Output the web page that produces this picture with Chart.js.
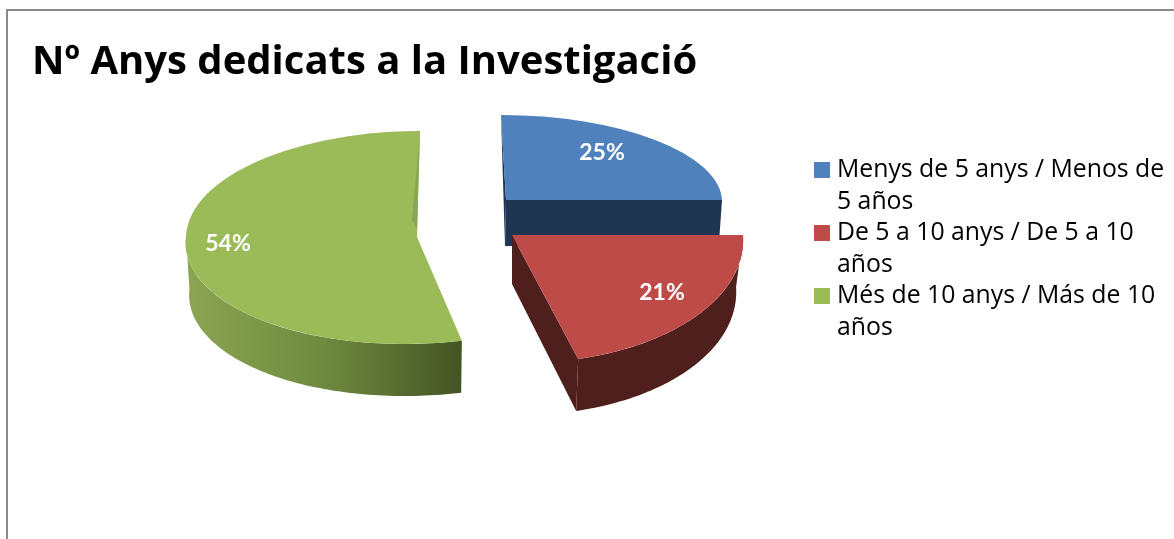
<!DOCTYPE html>
<html>
<head>
<meta charset="utf-8">
<style>html,body{margin:0;padding:0;background:#fff}canvas{display:block}</style>
<script src="https://cdn.jsdelivr.net/npm/chart.js@4/dist/chart.umd.min.js"></script>
</head>
<body>
<canvas id="c" width="1174" height="539"></canvas>
<script>
const titleText = 'Nº Anys dedicats a la Investigació';
const categories = [
  ['Menys de 5 anys / Menos de', '5 años'],
  ['De 5 a 10 anys / De 5 a 10', 'años'],
  ['Més de 10 anys / Más de 10', 'años']
];
const values = [25, 21, 54];
const topColors = ['#4f81bd', '#be4b48', '#9bbb59'];

// Projection of each exploded slice on the page (3-D look)
const projection = [
  {cx: 506, cy: 200, rx: 216, ryTop: 85,  ryBot: 85,  skTop: 5,  skBot: 5,   depth: 46, k: 0.985},
  {cx: 512, cy: 235, rx: 231, ryTop: 128, ryBot: 128, skTop: 9,  skBot: 9,   depth: 52, k: 0.97},
  {cx: 417, cy: 237, rx: 231, ryTop: 106, ryBot: 107, skTop: -3, skBot: -13, depth: 52, k: 0.985}
];
const labelPos = [[602, 153], [662, 293], [228, 244]];
const legendAt = {left: 819.6, top: 159};
const legendSwatch = 16;

function pt(p, a, z) {
  const u = Math.cos(a), v = Math.sin(a);
  const up = v < 0;
  const x = p.rx * u + (up ? p.skTop : p.skBot) * v;
  const y = (up ? p.ryTop : p.ryBot) * v;
  return z ? {x: p.cx + x * p.k, y: p.cy + y + p.depth}
           : {x: p.cx + x, y: p.cy + y};
}
function polygon(ctx, pts, fill) {
  ctx.beginPath();
  pts.forEach((q, i) => i ? ctx.lineTo(q.x, q.y) : ctx.moveTo(q.x, q.y));
  ctx.closePath();
  ctx.fillStyle = fill;
  ctx.fill();
}
function outerWall(ctx, p, a0, a1, fill) {
  const n = 80, pts = [];
  for (let i = 0; i <= n; i++) pts.push(pt(p, a0 + (a1 - a0) * i / n, false));
  for (let i = n; i >= 0; i--) pts.push(pt(p, a0 + (a1 - a0) * i / n, true));
  polygon(ctx, pts, fill);
}
function drawTop(ctx, chart, arc, p) {
  const R = arc.outerRadius;
  [[0, p.cy + 0.5, p.ryTop, p.skTop], [p.cy - 0.5, chart.height, p.ryBot, p.skBot]].forEach(([y0, y1, ry, sk]) => {
    ctx.save();
    ctx.beginPath();
    ctx.rect(0, y0, chart.width, y1 - y0);
    ctx.clip();
    ctx.translate(p.cx, p.cy);
    ctx.transform(p.rx / R, 0, sk / R, ry / R, 0, 0);
    ctx.translate(-arc.x, -arc.y);
    arc.draw(ctx);
    ctx.restore();
  });
}
function swatch(color) {
  const c = document.createElement('canvas');
  c.width = c.height = legendSwatch;
  const x = c.getContext('2d');
  x.fillStyle = color;
  x.fillRect(0, 0, legendSwatch, legendSwatch);
  return c;
}

const frame = {
  id: 'frame',
  afterLayout(chart) {
    const l = chart.legend;
    const w = l.right - l.left;
    l.left = legendAt.left;
    l.right = legendAt.left + w;
    l.top = legendAt.top;
    l.bottom = chart.height;
    l.draw = function () { this._draw(); };
  },
  beforeDraw(chart) {
    const ctx = chart.ctx;
    ctx.save();
    ctx.strokeStyle = '#8a8a8a';
    ctx.lineWidth = 2;
    ctx.strokeRect(7, 10, 1400, 800);
    ctx.restore();
  }
};

const pie3d = {
  id: 'pie3d',
  beforeDatasetsDraw(chart) {
    const ctx = chart.ctx;
    const arcs = chart.getDatasetMeta(0).data;
    const [blue, red, green] = arcs;

    // blue: front cut wall, left sliver, top
    {
      const p = projection[0];
      const apex = {x: p.cx, y: p.cy}, apexB = {x: p.cx - 1, y: p.cy + p.depth};
      polygon(ctx, [pt(p, blue.startAngle, false), apex, apexB], '#1f3552');
      polygon(ctx, [apex, pt(p, blue.endAngle, false), pt(p, blue.endAngle, true), apexB], '#1f3552');
      drawTop(ctx, chart, blue, p);
    }
    // green: outer wall with gradient, top, inner sliver
    {
      const p = projection[2];
      const g = ctx.createLinearGradient(p.cx - p.rx, 0, pt(p, green.startAngle, false).x, 0);
      g.addColorStop(0, '#8ca553');
      g.addColorStop(0.5, '#6f8a3f');
      g.addColorStop(1, '#445424');
      outerWall(ctx, p, green.startAngle, Math.PI, g);
      drawTop(ctx, chart, green, p);
      const a = {x: p.cx, y: p.cy - 7};
      polygon(ctx, [pt(p, green.endAngle, false), {x: a.x - 5, y: a.y - 10}, a], '#8aa654');
    }
    // red: cut wall, outer wall, top
    {
      const p = projection[1];
      const s = pt(p, red.endAngle, false), sB = pt(p, red.endAngle, true);
      polygon(ctx, [{x: p.cx, y: p.cy}, s, sB, {x: p.cx, y: p.cy + p.depth - 3}], '#4f1f1d');
      outerWall(ctx, p, red.startAngle, red.endAngle, '#4f1f1d');
      drawTop(ctx, chart, red, p);
    }
    // percentage labels
    ctx.save();
    ctx.fillStyle = '#fff';
    ctx.font = 'bold 23px Lato, Carlito, sans-serif';
    ctx.textAlign = 'center';
    ctx.textBaseline = 'middle';
    values.forEach((v, i) => ctx.fillText(v + '%', labelPos[i][0], labelPos[i][1]));
    ctx.restore();
    return false;
  }
};

new Chart(document.getElementById('c'), {
  type: 'pie',
  data: {
    labels: categories,
    datasets: [{data: values, backgroundColor: topColors, borderWidth: 0}]
  },
  plugins: [frame, pie3d],
  options: {
    responsive: false,
    animation: false,
    layout: {padding: {left: 32, right: 8, top: 43}},
    plugins: {
      tooltip: {enabled: false},
      title: {
        display: true,
        text: titleText,
        align: 'start',
        color: '#000',
        font: {family: '"Open Sans", sans-serif', size: 40, weight: 'bold', lineHeight: 1},
        padding: {top: 0, bottom: 54}
      },
      legend: {
        position: 'right',
        align: 'start',
        labels: {
          color: '#000',
          usePointStyle: true,
          boxWidth: 6,
          boxHeight: 16,
          padding: -1,
          font: {family: '"Open Sans", sans-serif', size: 24.8, lineHeight: 32 / 24.8},
          generateLabels(chart) {
            return Chart.overrides.pie.plugins.legend.labels.generateLabels(chart)
              .map((item, i) => Object.assign(item, {pointStyle: swatch(topColors[i])}));
          }
        }
      }
    }
  }
});
</script>
</body>
</html>
